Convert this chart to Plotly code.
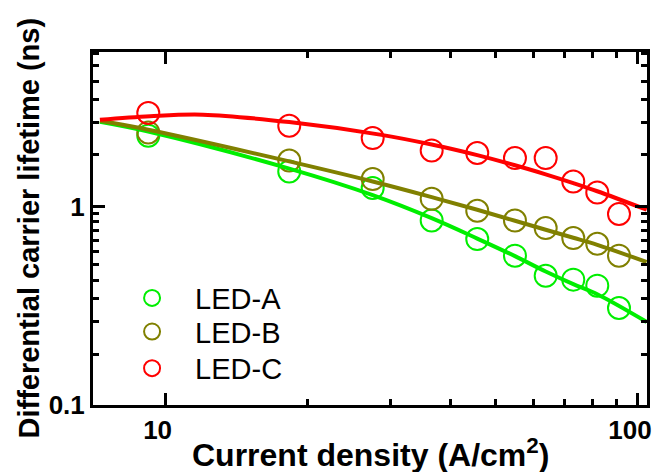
import plotly.graph_objects as go

# measured data (current density in A/cm^2, lifetime in ns)
led_x = [9.19, 18.27, 27.44, 36.58, 45.68, 54.9, 63.77, 72.95, 82.0, 91.16]
led_a = [2.27, 1.50, 1.238, 0.850, 0.685, 0.565, 0.448, 0.428, 0.399, 0.308]
led_b = [2.36, 1.705, 1.374, 1.093, 0.951, 0.850, 0.778, 0.693, 0.649, 0.565]
led_c = [2.955, 2.55, 2.21, 1.915, 1.858, 1.753, 1.753, 1.336, 1.176, 0.916]

# fitted curves
fit_x = [7.26, 9.19, 18.27, 27.44, 36.58, 45.68, 54.9, 63.77, 72.95, 82.0, 104.3]
fit_a = [2.67, 2.385, 1.55, 1.14, 0.873, 0.689, 0.562, 0.470, 0.406, 0.361, 0.262]
fit_b = [2.70, 2.435, 1.686, 1.336, 1.115, 0.962, 0.847, 0.763, 0.696, 0.641, 0.525]
fit_c_x = [7.26, 9.27, 12.0, 18.27, 28.43, 36.58, 45.68, 54.9, 63.77, 72.95, 82.0, 104.3]
fit_c = [2.734, 2.85, 2.90, 2.66, 2.30, 2.05, 1.813, 1.613, 1.452, 1.311, 1.193, 0.963]

names = ["LED-A", "LED-B", "LED-C"]
colors = ["#00ee00", "#808000", "#ff0000"]
legend_ids = ["legend", "legend2", "legend3"]

x_major = [10, 100]
x_major_text = ["10", "100"]
x_minor = [20, 30, 40, 50, 60, 70, 80, 90]
y_major = [0.1, 1]
y_major_text = ["0.1", "1"]
y_minor = [0.18, 0.262, 0.344, 0.426, 0.508, 0.59, 0.672, 0.754, 0.836, 0.918,
           1.82, 2.64, 3.46, 4.28, 5.1, 5.92]

x_title = "Current density (A/cm<sup>2</sup>)"
y_title = "Differential carrier lifetime (ns)"

fig = go.Figure()
for name, ys, col, lg in zip(names, [led_a, led_b, led_c], colors, legend_ids):
    fig.add_trace(go.Scatter(
        x=led_x, y=ys, mode="markers", name=name, legend=lg,
        marker=dict(symbol="circle-open", size=22, color=col, line=dict(width=2, color=col)),
    ))
for xs, ys, col in zip([fit_x, fit_x, fit_c_x], [fit_a, fit_b, fit_c], colors):
    fig.add_trace(go.Scatter(
        x=xs, y=ys, mode="lines", showlegend=False, hoverinfo="skip",
        line=dict(color=col, width=4, shape="spline", smoothing=1.0),
    ))

font_family = "Liberation Sans, Arial, sans-serif"
leg_common = dict(xanchor="left", yanchor="middle", bgcolor="rgba(0,0,0,0)",
                  font=dict(size=29, family=font_family), itemwidth=76)
fig.update_layout(
    width=655, height=472,
    margin=dict(l=93, r=8, t=52, b=67),
    paper_bgcolor="white", plot_bgcolor="white",
    font=dict(family=font_family, color="black"),
    legend=dict(x=0.029, y=0.303, **leg_common),
    legend2=dict(x=0.029, y=0.2076, **leg_common),
    legend3=dict(x=0.029, y=0.104, **leg_common),
    xaxis=dict(
        type="log", range=[0.8463, 2.0191], automargin=False,
        showline=True, linecolor="black", linewidth=3, mirror="ticks",
        ticks="inside", ticklen=12, tickwidth=3, tickcolor="black",
        tickmode="array", tickvals=x_major, ticktext=x_major_text,
        tickfont=dict(size=26, family=font_family, weight="bold"),
        ticklabelshift=-8,
        showgrid=False, zeroline=False,
        minor=dict(tickmode="array", tickvals=x_minor, ticks="inside", ticklen=6,
                   tickwidth=3, tickcolor="black", showgrid=False),
    ),
    yaxis=dict(
        type="log", range=[-1, 0.778], automargin=False,
        showline=True, linecolor="black", linewidth=3, mirror="ticks",
        ticks="inside", ticklen=12, tickwidth=3, tickcolor="black",
        tickmode="array", tickvals=y_major, ticktext=y_major_text,
        tickfont=dict(size=26, family=font_family, weight="bold"),
        showgrid=False, zeroline=False,
        minor=dict(tickmode="array", tickvals=y_minor, ticks="inside", ticklen=6,
                   tickwidth=3, tickcolor="black", showgrid=False),
    ),
    annotations=[
        dict(text=x_title, xref="paper", yref="paper", x=0.5, y=-0.137,
             xanchor="center", yanchor="middle", showarrow=False,
             font=dict(size=32, family=font_family, weight="bold", color="black")),
        dict(text=y_title, xref="paper", yref="paper", x=-0.1173, y=0.5,
             xanchor="center", yanchor="middle", showarrow=False, textangle=-90,
             font=dict(size=29, family=font_family, weight="bold", color="black")),
    ],
)

fig.write_html("out.html", config={"displayModeBar": False},
               post_script="document.body.style.margin='0';document.body.style.overflow='hidden';")
